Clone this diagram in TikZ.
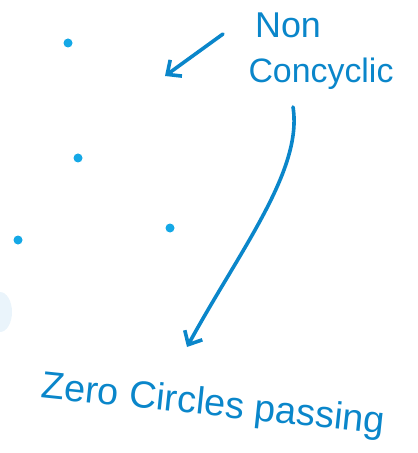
\documentclass[tikz,border=0pt]{standalone}
\usepackage{fontspec}
\setmainfont{Liberation Sans}
\usetikzlibrary{arrows.meta}
\definecolor{inkblue}{HTML}{0A86CA}
\definecolor{dotblue}{HTML}{14A8E6}
\definecolor{smudge}{HTML}{EAF4FB}
\begin{document}
\begin{tikzpicture}[x=1bp,y=-1bp,line join=round,line cap=round,
	hand/.style={inkblue,font=\fontsize{34}{40}\selectfont,inner sep=0pt},
	pen/.style={draw=inkblue,line width=3.6bp,-{Straight Barb[length=11bp,width=20bp,line width=3.6bp]}}]
	\useasboundingbox (0,0) rectangle (417,453);
	\path
	(68,43) coordinate (P1)
	(78,158) coordinate (P2)
	(18,240) coordinate (P3)
	(170,228) coordinate (P4)
	(223,34) coordinate (startA)
	(165,76) coordinate (tipA)
	(293,107) coordinate (startB)
	(187,347) coordinate (tipB)
	;
	\foreach \x in
	{P1,P2,P3,P4}
	\fill[dotblue](\x) circle (4.5bp);
	\fill[smudge] (0,312) ellipse (12 and 20);
	\node[hand,font=\fontsize{36}{42}\selectfont] (non) at (288,25) {Non};
	\node[hand] (concyclic) at (321,74) {Concyclic};
	\node[hand,font=\fontsize{38}{44}\selectfont,rotate=-6] (zero) at (213,406) {Zero Circles passing};
	\draw[pen] (startA)--(tipA);
	\draw[pen] (startB) .. controls (303,170) and (240,250) .. (tipB);
\end{tikzpicture}
\end{document}
